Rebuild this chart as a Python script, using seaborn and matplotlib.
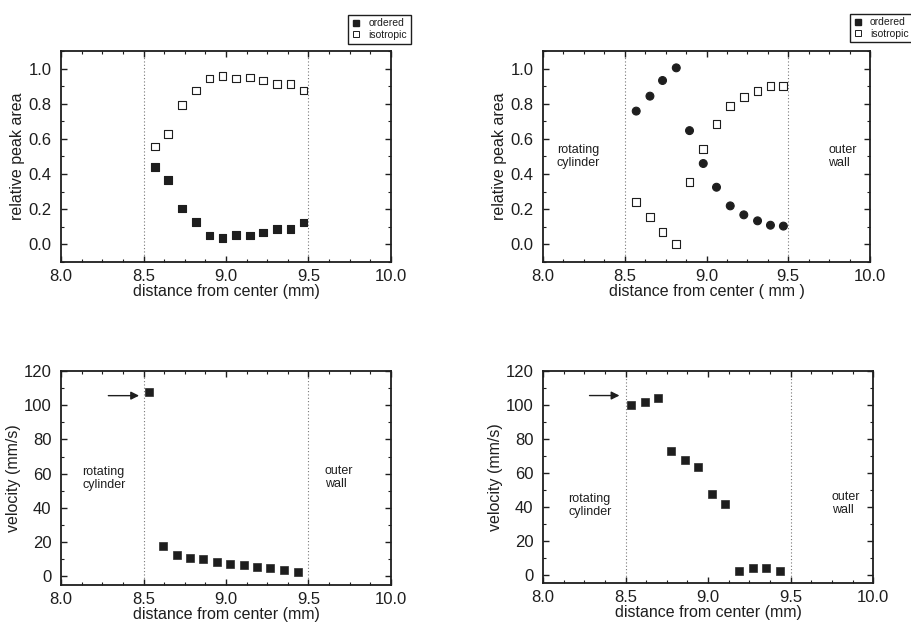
import matplotlib
matplotlib.use("Agg")
import matplotlib.pyplot as plt
import numpy as np
import pandas as pd
import seaborn as sns
from matplotlib.ticker import MultipleLocator
from matplotlib.lines import Line2D

# peak area data (left: upper panel, right: upper panel)
x_left = [8.57, 8.65, 8.735, 8.82, 8.90, 8.98, 9.06, 9.145, 9.225, 9.31, 9.39, 9.47]
ordered_left = [0.44, 0.365, 0.203, 0.127, 0.051, 0.038, 0.055, 0.051, 0.068, 0.087, 0.087, 0.124]
iso_left = [0.557, 0.629, 0.793, 0.876, 0.943, 0.958, 0.943, 0.949, 0.932, 0.911, 0.911, 0.875]

x_right = [8.57, 8.654, 8.731, 8.815, 8.896, 8.98, 9.061, 9.145, 9.228, 9.312, 9.391, 9.47]
ordered_right = [0.758, 0.843, 0.932, 1.004, 0.647, 0.46, 0.325, 0.219, 0.168, 0.134, 0.109, 0.104]
iso_right = [0.243, 0.158, 0.07, 0.0, 0.353, 0.543, 0.683, 0.787, 0.836, 0.872, 0.90, 0.90]

# velocity data
xv_left = [8.533, 8.618, 8.701, 8.78, 8.861, 8.943, 9.024, 9.107, 9.188, 9.269, 9.349, 9.434]
vel_left = [107.5, 17.8, 12.8, 10.5, 9.9, 8.3, 7.1, 6.7, 5.5, 4.7, 3.6, 2.8]
xv_right = [8.536, 8.615, 8.698, 8.776, 8.861, 8.94, 9.026, 9.105, 9.19, 9.27, 9.351, 9.435]
vel_right = [99.9, 101.8, 104.0, 73.0, 67.5, 63.2, 47.6, 41.8, 2.4, 4.1, 4.1, 2.4]

walls = [8.5, 9.5]

sns.set_style("ticks")
plt.rcParams["font.family"] = ["Liberation Sans", "DejaVu Sans"]
ink = "#1e1e1e"
plt.rcParams["text.color"] = ink
plt.rcParams["axes.labelcolor"] = ink
plt.rcParams["xtick.color"] = ink
plt.rcParams["ytick.color"] = ink

fig = plt.figure(figsize=(9.12, 6.23), dpi=100)
ax_tl = fig.add_axes([0.0669, 0.5795, 0.3618, 0.3387])
ax_tr = fig.add_axes([0.5954, 0.5795, 0.3586, 0.3387])
ax_bl = fig.add_axes([0.0669, 0.061, 0.3618, 0.3435])
ax_br = fig.add_axes([0.5954, 0.064, 0.362, 0.3403])

label_fs = 11.5
tick_fs = 12
note_fs = 9


def peak_frame(x, ordered, iso):
    df = pd.DataFrame({"x": x + x, "y": ordered + iso,
                       "phase": ["ordered"] * len(x) + ["isotropic"] * len(x)})
    return df


def style_axis(ax, ylim, ymaj, ymin):
    ax.set_xlim(8.0, 10.0)
    ax.set_ylim(*ylim)
    ax.xaxis.set_major_locator(MultipleLocator(0.5))
    ax.xaxis.set_minor_locator(MultipleLocator(0.125))
    ax.yaxis.set_major_locator(MultipleLocator(ymaj))
    ax.yaxis.set_minor_locator(MultipleLocator(ymin))
    ax.tick_params(which="both", direction="in", top=True, right=True, labelsize=tick_fs)
    ax.tick_params(axis="y", pad=7)
    ax.tick_params(axis="x", pad=5)
    ax.tick_params(which="major", length=4, width=1.0)
    ax.tick_params(which="minor", length=2, width=0.8)
    for s in ax.spines.values():
        s.set_linewidth(1.3)
        s.set_color(ink)
    for w in walls:
        ax.axvline(w, color="#777777", lw=0.8, ls=(0, (1, 2)), zorder=0)
    ax.set_xlabel("distance from center (mm)", fontsize=label_fs, labelpad=0)


# upper left
df_tl = peak_frame(x_left, ordered_left, iso_left)
sns.scatterplot(data=df_tl, x="x", y="y", style="phase", hue="phase",
                markers={"ordered": "s", "isotropic": "s"},
                palette={"ordered": ink, "isotropic": "white"}, s=30,
                edgecolor=ink, linewidth=0.8, ax=ax_tl, legend=False)
style_axis(ax_tl, (-0.1, 1.1), 0.2, 0.1)
ax_tl.set_ylabel("relative peak area", fontsize=label_fs, labelpad=2)
ax_tl.yaxis.set_major_formatter(plt.FuncFormatter(lambda v, p: f"{v:.1f}"))

# upper right
df_tr = peak_frame(x_right, ordered_right, iso_right)
sns.scatterplot(data=df_tr, x="x", y="y", style="phase", hue="phase",
                markers={"ordered": "o", "isotropic": "s"},
                palette={"ordered": ink, "isotropic": "white"}, s=32,
                edgecolor=ink, linewidth=0.8, ax=ax_tr, legend=False)
style_axis(ax_tr, (-0.1, 1.1), 0.2, 0.1)
ax_tr.set_ylabel("relative peak area", fontsize=label_fs, labelpad=2)
ax_tr.set_xlabel("distance from center ( mm )", fontsize=label_fs, labelpad=0)
ax_tr.yaxis.set_major_formatter(plt.FuncFormatter(lambda v, p: f"{v:.1f}"))
ax_tr.text(8.085, 0.5, "rotating\ncylinder", fontsize=note_fs, va="center", ha="left", linespacing=1.1)
ax_tr.text(9.745, 0.5, "outer\nwall", fontsize=note_fs, va="center", ha="left", linespacing=1.1)

# legends above the upper panels
handles = [Line2D([], [], ls="none", marker="s", ms=4.5, mfc=ink, mec=ink, label="ordered"),
           Line2D([], [], ls="none", marker="s", ms=4.5, mfc="white", mec=ink, mew=0.7, label="isotropic")]
for anchor in [(0.376, 0.953), (0.926, 0.955)]:
    fig.legend(handles=handles, loc="center left", bbox_to_anchor=anchor, fontsize=7.5,
               frameon=True, fancybox=False, edgecolor=ink, framealpha=1,
               handlelength=0.8, handletextpad=0.8, borderpad=0.35, labelspacing=0.15)

# lower left
sns.scatterplot(x=xv_left, y=vel_left, marker="s", color=ink, s=30, edgecolor=ink, ax=ax_bl)
style_axis(ax_bl, (-5, 120), 20, 10)
ax_bl.set_ylabel("velocity (mm/s)", fontsize=label_fs, labelpad=2)
ax_bl.annotate("", xy=(8.49, 105.6), xytext=(8.27, 105.6),
               arrowprops=dict(arrowstyle="-|>", color=ink, lw=1.0, mutation_scale=12))
ax_bl.text(8.13, 57, "rotating\ncylinder", fontsize=note_fs, va="center", ha="left", linespacing=1.1)
ax_bl.text(9.6, 58, "outer\nwall", fontsize=note_fs, va="center", ha="left", linespacing=1.1)

# lower right
sns.scatterplot(x=xv_right, y=vel_right, marker="s", color=ink, s=30, edgecolor=ink, ax=ax_br)
style_axis(ax_br, (-5, 120), 20, 10)
ax_br.set_ylabel("velocity (mm/s)", fontsize=label_fs, labelpad=2)
ax_br.annotate("", xy=(8.48, 105.6), xytext=(8.265, 105.6),
               arrowprops=dict(arrowstyle="-|>", color=ink, lw=1.0, mutation_scale=12))
ax_br.text(8.155, 41, "rotating\ncylinder", fontsize=note_fs, va="center", ha="left", linespacing=1.1)
ax_br.text(9.75, 42, "outer\nwall", fontsize=note_fs, va="center", ha="left", linespacing=1.1)

fig.savefig("out.png", dpi=100)
